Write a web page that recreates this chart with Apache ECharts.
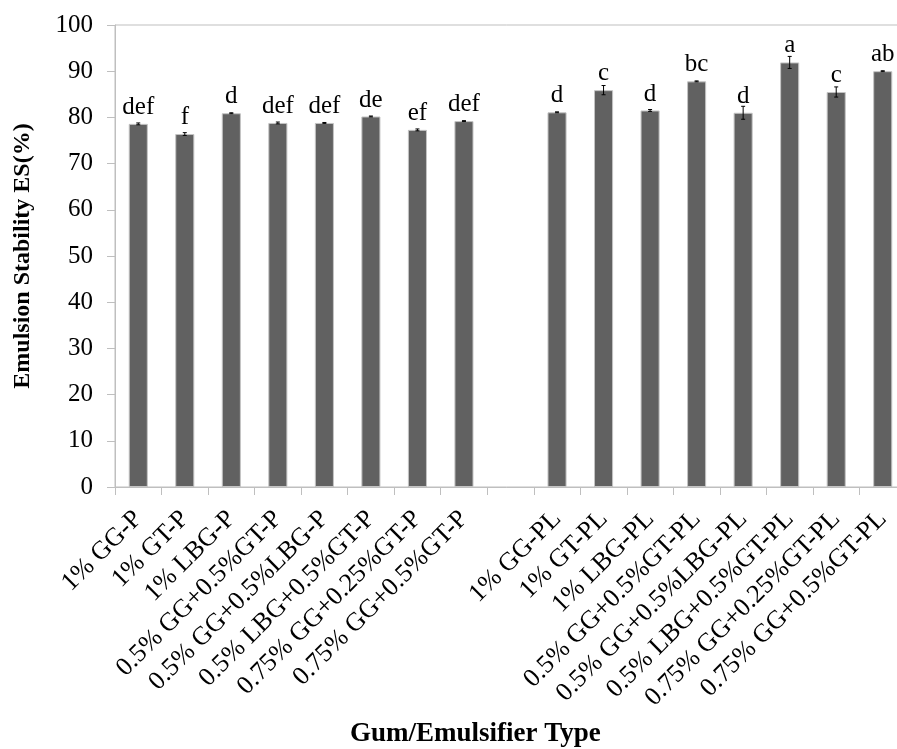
<!DOCTYPE html>
<html lang="en" style="height: 100%">
<head>
  <meta charset="utf-8">
</head>
<body style="height: 100%; margin: 0; background: #fff">
  <div id="container" style="width: 897px; height: 749px"></div>

  <script type="text/javascript" src="https://cdn.jsdelivr.net/npm/echarts@6/dist/echarts.min.js"></script>
  <script type="text/javascript">
    // groups: gums with P, then a spacer, then gums with PL
    var categories = [
      '1% GG-P', '1% GT-P', '1% LBG-P', '0.5% GG+0.5%GT-P', '0.5% GG+0.5%LBG-P',
      '0.5% LBG+0.5%GT-P', '0.75% GG+0.25%GT-P', '0.75% GG+0.5%GT-P',
      '',
      '1% GG-PL', '1% GT-PL', '1% LBG-PL', '0.5% GG+0.5%GT-PL', '0.5% GG+0.5%LBG-PL',
      '0.5% LBG+0.5%GT-PL', '0.75% GG+0.25%GT-PL', '0.75% GG+0.5%GT-PL'
    ];
    var stability = [78.6, 76.4, 80.9, 78.8, 78.8, 80.2, 77.3, 79.2, null,
                     81.1, 85.9, 81.5, 87.8, 81.0, 91.9, 85.5, 90.0];
    var errors = [0.2, 0.3, 0.1, 0.2, 0.1, 0.1, 0.2, 0.1, null,
                  0.1, 1.0, 0.2, 0.1, 1.4, 1.3, 1.1, 0.1];
    var letters = ['def', 'f', 'd', 'def', 'def', 'de', 'ef', 'def', '',
                   'd', 'c', 'd', 'bc', 'd', 'a', 'c', 'ab'];

    var font = 'Liberation Serif';
    var axisGrey = '#bfbfbf';

    var errData = stability.map(function (v, i) {
      return v == null ? [i, '-', '-'] : [i, v - errors[i], v + errors[i]];
    });

    var dom = document.getElementById('container');
    var myChart = echarts.init(dom, null, { renderer: 'canvas' });

    var option = {
      animation: false,
      backgroundColor: '#fff',
      grid: {
        left: 115, top: 25, right: -9, bottom: 262,
        show: true, borderColor: axisGrey, borderWidth: 1,
        containLabel: false,
        outerBoundsMode: 'none'
      },
      xAxis: {
        type: 'category',
        data: categories,
        axisLine: { lineStyle: { color: axisGrey } },
        axisTick: { show: true, length: 8, lineStyle: { color: axisGrey } },
        axisLabel: {
          interval: 0,
          rotate: 45,
          margin: 28,
          color: '#000',
          fontFamily: font,
          fontSize: 26
        }
      },
      yAxis: {
        type: 'value',
        min: 0, max: 100, interval: 10,
        name: 'Emulsion Stability ES(%)',
        nameLocation: 'middle',
        nameGap: 80,
        nameMoveOverlap: false,
        nameTextStyle: { fontFamily: font, fontSize: 24, fontWeight: 'bold', color: '#000' },
        splitLine: { show: false },
        axisLine: { show: true, lineStyle: { color: axisGrey } },
        axisTick: { show: true, length: 8, lineStyle: { color: axisGrey } },
        axisLabel: { margin: 22, color: '#000', fontFamily: font, fontSize: 25 }
      },
      graphic: [{
        type: 'text',
        left: 474 - 124, top: 721,
        style: {
          text: 'Gum/Emulsifier Type',
          font: 'bold 27px "Liberation Serif"',
          fill: '#000'
        }
      }],
      series: [
        {
          type: 'bar',
          data: stability,
          barWidth: '41%',
          itemStyle: { color: '#616161', borderColor: '#c4c4c4', borderWidth: 1 },
          label: {
            show: true,
            position: 'top',
            distance: 4,
            color: '#000',
            fontFamily: font,
            fontSize: 25,
            formatter: function (p) { return letters[p.dataIndex]; }
          }
        },
        {
          type: 'custom',
          data: errData,
          z: 10,
          renderItem: function (params, api) {
            if (api.value(1) === '-' || isNaN(api.value(1))) return null;
            var lo = api.coord([api.value(0), api.value(1)]);
            var hi = api.coord([api.value(0), api.value(2)]);
            var w = 2;
            var st = { stroke: '#000', lineWidth: 1 };
            return {
              type: 'group',
              children: [
                { type: 'line', shape: { x1: lo[0], y1: lo[1], x2: hi[0], y2: hi[1] }, style: st },
                { type: 'line', shape: { x1: lo[0] - w, y1: lo[1], x2: lo[0] + w, y2: lo[1] }, style: st },
                { type: 'line', shape: { x1: hi[0] - w, y1: hi[1], x2: hi[0] + w, y2: hi[1] }, style: st }
              ]
            };
          }
        }
      ]
    };

    myChart.setOption(option);
    window.addEventListener('resize', myChart.resize);
  </script>
</body>
</html>
